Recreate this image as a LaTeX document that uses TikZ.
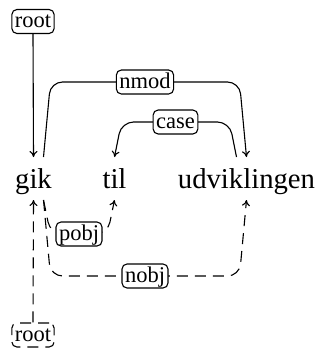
\documentclass[tikz,border=0pt]{standalone}
\usepackage{fontspec}
\setmainfont{Liberation Serif}
\usetikzlibrary{arrows.meta,calc}
\tikzset{
  word/.style={anchor=base, inner sep=0pt, font=\fontsize{28.7}{30}\selectfont},
  deplabel/.style={draw, fill=white, rounded corners=5pt, inner sep=3pt, line width=1.1pt,
    font=\fontsize{22.5}{24}\selectfont, text height=15pt, text depth=3pt},
  arc/.style={line width=1.1pt, rounded corners=12pt, -{To[length=6pt,width=8pt]}},
  lowarc/.style={arc, dash pattern=on 11pt off 7pt},
}
\begin{document}
\begin{tikzpicture}[x=1pt,y=-1pt]
\useasboundingbox (0,0) rectangle (321,351);

% sentence
\node[word] (gik) at (33.5,188) {gik};
\node[word] (til) at (114.5,188) {til};
\node[word] (udv) at (246.5,188) {udviklingen};

% upper analysis
\coordinate (nmodL) at ($(gik.base)+(17,-106)$);
\coordinate (nmodR) at ($(udv.base)+(-7,-106)$);
\draw[arc] ($(gik.base)+(10,-31)$) -- (nmodL) -- (nmodR) -- ($(udv.base)+(0,-31)$);
\node[deplabel] (lnmod) at ($(nmodL)!0.5!(nmodR)$) {nmod};

\coordinate (caseR) at ($(udv.base)+(-17,-66)$);
\coordinate (caseL) at ($(til.base)+(7,-66)$);
\draw[arc] ($(udv.base)+(-10,-31)$) -- (caseR) -- (caseL) -- ($(til.base)+(0,-31)$);
\node[deplabel] (lcase) at ($(caseL)!0.5!(caseR)$) {case};

\node[deplabel] (rtop) at (33,21.5) {root};
\draw[arc] (rtop.south) -- ($(gik.base)+(0,-31)$);

% lower analysis
\coordinate (pobjL) at ($(gik.base)+(17,46)$);
\coordinate (pobjR) at ($(til.base)+(-7,46)$);
\draw[lowarc] ($(gik.base)+(10,12)$) -- (pobjL) -- (pobjR) -- ($(til.base)+(0,12)$);
\node[deplabel] (lpobj) at ($(pobjL)!0.5!(pobjR)$) {pobj};

\coordinate (nobjL) at ($(gik.base)+(17,88)$);
\coordinate (nobjR) at ($(udv.base)+(-7,88)$);
\draw[lowarc] ($(gik.base)+(10,12)$) -- (nobjL) -- (nobjR) -- ($(udv.base)+(0,12)$);
\node[deplabel] (lnobj) at ($(nobjL)!0.5!(nobjR)$) {nobj};

\node[deplabel, dash pattern=on 11pt off 7pt] (rbot) at (33,335) {root};
\draw[lowarc] (rbot.north) -- ($(gik.base)+(0,12)$);
\end{tikzpicture}
\end{document}
